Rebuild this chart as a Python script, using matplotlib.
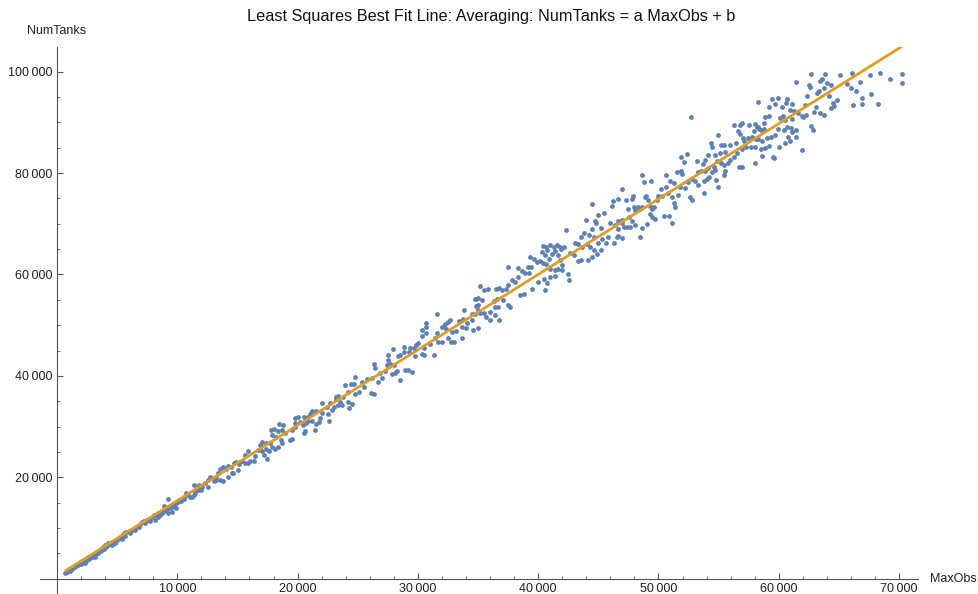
import numpy as np
import matplotlib
matplotlib.use("Agg")
import matplotlib.pyplot as plt
from matplotlib.ticker import FuncFormatter

plt.rcParams['font.family'] = ['Liberation Sans', 'DejaVu Sans']

# (MaxObs, NumTanks), in strips along the band
obs_0_12k = [
    (660, 1060), (830, 1320), (1050, 1590), (1270, 1980), (1500, 2240), (1770, 2640), (1990, 2900), (2220, 3300),
    (2440, 3560), (2660, 3820), (2880, 4220), (3100, 4610), (3270, 4870), (3430, 5140), (3660, 5530), (3880, 5930),
    (4040, 6320), (4270, 6580), (4490, 6980), (4710, 7240), (4930, 7500), (3990, 6580), (3820, 6320), (4270, 6980),
    (5040, 7900), (5260, 8160), (5480, 8690), (5540, 9080), (5760, 9210), (5980, 9340), (6200, 9610), (6370, 9870),
    (6590, 10260), (6760, 10400), (6930, 10790), (7090, 11190), (7260, 11450), (7480, 11580), (7650, 11840),
    (7870, 12240), (8030, 12630), (8200, 12500), (8370, 12110), (8530, 12630), (8700, 12900), (8920, 13290),
    (9140, 13680), (9200, 15660), (9360, 13950), (9530, 14210), (9700, 14600), (9860, 14870), (10080, 15130),
    (10300, 15390), (10530, 15790), (10690, 16840), (10860, 16710), (11030, 16180), (11190, 16050), (11470, 16970),
    (11690, 17500), (11800, 18420), (11360, 18550), (10140, 15520), (9530, 13160), (9250, 12900), (8140, 11580),
    (7310, 10920), (6480, 9610), (6040, 8950), (5370, 7900), (4820, 6980), (3160, 4350), (2330, 3030), (4540, 6580),
    (5650, 8420), (6810, 10130), (8420, 12900), (7760, 11320), (9860, 13950), (8860, 14340), (11360, 16580),
    (10640, 16310),
]

obs_12k_23k = [
    (23160, 35900), (22660, 34720), (22000, 34720), (22440, 33930), (23050, 33800), (23380, 34200), (22830, 33270),
    (22490, 32490), (22000, 32620), (21550, 33140), (21170, 33010), (21000, 32490), (20890, 31960), (20560, 31830),
    (20060, 31830), (19780, 31700), (19780, 30780), (20220, 30910), (20440, 30380), (20670, 30650), (21170, 31170),
    (21500, 30510), (21770, 30910), (21890, 31700), (21440, 29330), (20610, 29200), (20500, 28800), (19780, 29860),
    (19500, 29330), (19390, 27360), (18780, 30380), (18450, 30510), (18730, 29330), (18950, 28800), (18400, 29070),
    (18010, 29460), (17790, 29330), (17900, 28280), (18230, 27880), (18620, 27360), (18730, 26700), (18340, 26040),
    (17900, 25910), (17730, 26830), (17400, 26700), (17070, 26960), (16840, 26310), (16730, 25390), (17010, 25250),
    (17340, 25650), (17620, 25250), (18120, 25520), (17180, 24330), (17450, 23540), (16460, 24200), (16350, 23150),
    (16070, 23280), (15900, 25120), (15630, 24330), (15350, 23280), (15130, 22620), (14900, 23020), (14680, 22750),
    (14460, 21970), (14240, 22230), (14070, 21570), (13800, 22100), (13580, 21570), (13410, 20780), (13190, 19990),
    (13020, 19200), (12740, 19990), (12580, 19470), (12300, 18940), (12020, 18150), (11750, 18150), (11640, 17630),
    (11970, 17500), (12580, 18150), (13240, 19470), (13520, 19470), (13800, 19340), (14240, 19990), (14520, 20780),
    (14630, 20910), (15070, 21440), (15630, 22750), (15900, 22750), (19500, 27490), (20890, 31170), (22610, 31170),
    (11470, 17230),
]

obs_23k_35k = [
    (34850, 55170), (35020, 53990), (33800, 52940), (34470, 52280), (34740, 52150), (31590, 52150), (32690, 51090),
    (32530, 50700), (32250, 50310), (32140, 49910), (33410, 50830), (33750, 51230), (34080, 50440), (34520, 50960),
    (35020, 49520), (34580, 49120), (33970, 49380), (33690, 49650), (33140, 48860), (32810, 48730), (32360, 49250),
    (31970, 49650), (31590, 48460), (31420, 47540), (31700, 46750), (32030, 46750), (32470, 47410), (32750, 46750),
    (32970, 46620), (33640, 47410), (30640, 50440), (30640, 49650), (30370, 48990), (30700, 48460), (30370, 47810),
    (30040, 46490), (29870, 46100), (29650, 45570), (29370, 45570), (29260, 44780), (28870, 45700), (28820, 44780),
    (28540, 44120), (28370, 43990), (27930, 45310), (27540, 44120), (27540, 43200), (27710, 42420), (27990, 42150),
    (28260, 40970), (28930, 41100), (29150, 41100), (29540, 40840), (29760, 43990), (30370, 44260), (30530, 44120),
    (30530, 45440), (31030, 46360), (31310, 44120), (27430, 42150), (27270, 40970), (26880, 40570), (26430, 41630),
    (26320, 42420), (26160, 39520), (25770, 39390), (25380, 38730), (24770, 39790), (24660, 38470), (24440, 38340),
    (23940, 38210), (24220, 36890), (24770, 36370), (25100, 36890), (25490, 37810), (26100, 36630), (26380, 36370),
    (26660, 38730), (26990, 39520), (27820, 40440), (28100, 40570), (28540, 39130), (23770, 35840), (23330, 35970),
    (23500, 34920), (24220, 34790), (24500, 34390), (24270, 33600), (23660, 34260), (23220, 35450),
]

obs_35k_47k = [
    (44450, 73900), (46220, 74430), (46110, 73510), (45500, 72060), (45000, 71800), (43950, 70740), (44720, 70480),
    (44830, 70220), (46000, 70090), (46380, 69690), (45220, 69170), (44450, 68900), (46660, 67590), (45830, 67330),
    (46330, 66270), (45610, 66270), (45280, 66930), (45000, 66270), (44610, 67460), (44220, 67850), (43840, 68120),
    (43560, 67460), (43060, 66270), (43340, 66010), (43670, 65490), (44060, 66010), (44330, 65490), (44670, 64830),
    (45220, 64830), (44890, 64040), (44450, 63380), (44170, 62860), (43560, 62860), (43280, 62720), (42950, 63910),
    (42670, 64170), (42340, 68770), (42170, 65350), (41900, 64960), (41790, 65490), (41560, 65750), (41290, 65490),
    (41010, 65750), (40680, 65490), (40400, 65620), (40290, 64430), (40570, 63910), (40730, 64830), (40900, 63120),
    (41120, 64040), (41400, 64570), (41620, 63910), (41840, 62860), (42010, 61800), (41680, 61150), (41400, 60880),
    (41010, 61150), (40680, 62070), (40400, 62330), (40180, 62720), (39900, 62460), (39630, 62990), (39350, 63380),
    (39400, 61540), (39130, 61540), (39240, 60360), (38910, 60230), (38630, 60620), (38350, 61280), (38300, 59440),
    (38070, 58520), (37850, 58910), (37460, 61540), (37520, 57860), (37300, 57070), (36970, 56940), (36740, 57330),
    (36470, 57070), (35860, 57200), (35530, 56940), (35140, 57730), (35300, 54960), (35030, 55360), (34750, 55230),
    (34860, 53780), (35140, 52330), (35470, 52330), (35690, 51680), (35970, 52600), (36410, 53650), (36690, 53520),
    (36300, 54700), (36580, 55230), (37080, 54960), (37520, 53910), (37690, 53650), (38520, 56020), (38850, 56150),
    (39460, 57200), (39960, 58520), (40510, 59040), (40570, 56940), (40730, 58250), (41010, 59570), (41400, 59700),
    (42560, 58910), (42510, 60090), (41950, 60880), (36740, 51020), (36410, 51940), (35970, 51020), (35030, 52990),
]

obs_47k_58k = [
    (52670, 91140), (56300, 89560), (56800, 89430), (56960, 89950), (57520, 89430), (58010, 89690), (58240, 89030),
    (57960, 88370), (56630, 88370), (56740, 87720), (57020, 86930), (57460, 86930), (57740, 87060), (58290, 86800),
    (57130, 86270), (56410, 86010), (55960, 85610), (55190, 85610), (54970, 87450), (55410, 85480), (55520, 84170),
    (55130, 84030), (54690, 83510), (54360, 86010), (54470, 85090), (54080, 83510), (53860, 82590), (53690, 81800),
    (53190, 82320), (52340, 83770), (51860, 83110), (52090, 82190), (51530, 80220), (51860, 80480), (51920, 79830),
    (53250, 80220), (53530, 80350), (53860, 80480), (54140, 81010), (54410, 80220), (54580, 81270), (54690, 80610),
    (54860, 82320), (55190, 81930), (55470, 81540), (55740, 82060), (55960, 82590), (56240, 83240), (56520, 84030),
    (56910, 84820), (57240, 85220), (57680, 85090), (58010, 85220), (58010, 81930), (56910, 81270), (56680, 81270),
    (55520, 80350), (55410, 79560), (54750, 78640), (54970, 77200), (54190, 79300), (54030, 78910), (53800, 78380),
    (53310, 77590), (53030, 78510), (52750, 78910), (52470, 78250), (52200, 77060), (51750, 77330), (51310, 77990),
    (50920, 78510), (50650, 79560), (50590, 77330), (50200, 76800), (49930, 75490), (49370, 78380), (48820, 78250),
    (48650, 79560), (48870, 75220), (48930, 75490), (49150, 74700), (49260, 73510), (49480, 73000), (49650, 73380),
    (49840, 74700), (50260, 75490), (50810, 76010), (51140, 75220), (51310, 74040), (51370, 73250), (51640, 75620),
    (52640, 75220), (52810, 74700), (53750, 76010), (46930, 76800), (46660, 74960), (47320, 74700), (47770, 74830),
    (47880, 75490), (47490, 73000), (47930, 73250), (48040, 72730), (48320, 73250), (48490, 72860), (48600, 73380),
    (47540, 71410), (47770, 70620), (48040, 69700), (47600, 69440), (47380, 69310), (47160, 69440), (46990, 70090),
    (46930, 70750), (46600, 70620), (46660, 69040), (46550, 67470), (46990, 67200), (48430, 67470), (48650, 69170),
    (49040, 69960), (49320, 71940), (49480, 71410), (49700, 71020), (50480, 71540), (50870, 71540), (51090, 70230),
]

obs_58k_71k = [
    (70260, 99550), (70210, 97710), (69210, 98630), (68380, 99680), (67550, 99280), (67630, 95670), (68270, 93560),
    (66940, 93690), (66880, 94880), (66440, 96130), (66140, 93370), (66770, 97970), (65970, 96850), (66050, 99680),
    (65670, 97510), (65080, 99280), (64860, 94420), (64610, 93230), (64530, 93890), (64340, 97310), (64170, 95210),
    (63980, 97710), (63840, 99550), (63780, 96720), (63560, 98490), (63450, 98230), (63340, 96130), (63170, 95860),
    (63060, 93100), (62900, 92120), (62650, 99550), (62590, 97050), (62510, 97310), (62310, 95210), (62180, 93430),
    (62230, 91460), (62040, 91130), (61900, 91260), (61620, 91790), (61430, 97900), (61290, 92310), (61120, 90600),
    (61070, 93630), (60900, 92450), (60680, 94680), (60570, 93760), (60510, 90470), (60350, 91330), (60240, 93100),
    (60070, 90800), (59960, 94880), (59680, 93560), (59460, 94680), (59180, 92970), (59180, 91260), (58850, 91130),
    (58800, 89950), (58740, 88630), (58520, 88500), (58350, 88760), (58240, 94090), (58160, 89160), (58100, 86660),
    (58570, 86400), (58990, 86860), (59350, 87050), (59680, 87510), (59960, 88630), (60460, 88500), (60710, 89030),
    (61010, 88830), (61450, 88500), (61400, 87050), (60790, 87190), (60510, 85870), (60010, 85210), (59180, 85340),
    (58850, 84880), (58520, 84820), (58570, 83370), (59540, 83240), (59630, 82910), (60960, 86400), (61120, 88170),
    (61900, 84560), (62670, 89290), (62870, 88500), (63780, 91460), (63420, 91790), (64340, 92770),
]

x_major = [10000, 20000, 30000, 40000, 50000, 60000, 70000]
y_major = [20000, 40000, 60000, 80000, 100000]

pts = np.array(obs_0_12k + obs_12k_23k + obs_23k_35k + obs_35k_47k + obs_47k_58k + obs_58k_71k)
max_obs = pts[:, 0]
num_tanks = pts[:, 1]

a, b = np.polyfit(max_obs, num_tanks, 1)

fig = plt.figure(figsize=(9.79, 5.94), dpi=100)
ax = fig.add_axes([40 / 979, 0, 878 / 979, 547.3 / 594])

ax.scatter(max_obs, num_tanks, s=12, color='#5E81B5', linewidths=0, zorder=2)
xs = np.array([max_obs.min(), max_obs.max()])
ax.plot(xs, a * xs + b, color='#E19C24', lw=2.0, zorder=3, solid_capstyle='butt')

ax.set_xlim(-1410, 71570)
ax.set_ylim(-3020, 104930)

for s in ['top', 'right']:
    ax.spines[s].set_visible(False)
ax.spines['left'].set_position(('data', 0))
ax.spines['bottom'].set_position(('data', 0))
for s in ['left', 'bottom']:
    ax.spines[s].set_color('#555555')
    ax.spines[s].set_linewidth(0.8)

ax.set_xticks(x_major)
ax.set_xticks(np.arange(2000, 71000, 2000), minor=True)
ax.set_yticks(y_major)
ax.set_yticks(np.arange(5000, 104000, 5000), minor=True)

fmt = FuncFormatter(lambda v, p: f"{int(v):,}".replace(',', '\u2009'))
ax.xaxis.set_major_formatter(fmt)
ax.yaxis.set_major_formatter(fmt)

ax.tick_params(which='major', direction='in', length=4.5, width=0.8, color='#555555',
               labelsize=9, labelcolor='#222222', pad=3)
ax.tick_params(which='minor', direction='in', length=2.5, width=0.6, color='#555555')

fig.text(0.502, 1 - 16 / 594, "Least Squares Best Fit Line: Averaging: NumTanks = a MaxObs + b",
         ha='center', va='center', fontsize=11.7, color='#111111')
fig.text(57 / 979, 1 - 31 / 594, "NumTanks", ha='center', va='center', fontsize=9, color='#222222')
fig.text(930 / 979, 1 - 579 / 594, "MaxObs", ha='left', va='center', fontsize=9, color='#222222')

fig.savefig('out.png', dpi=100)
